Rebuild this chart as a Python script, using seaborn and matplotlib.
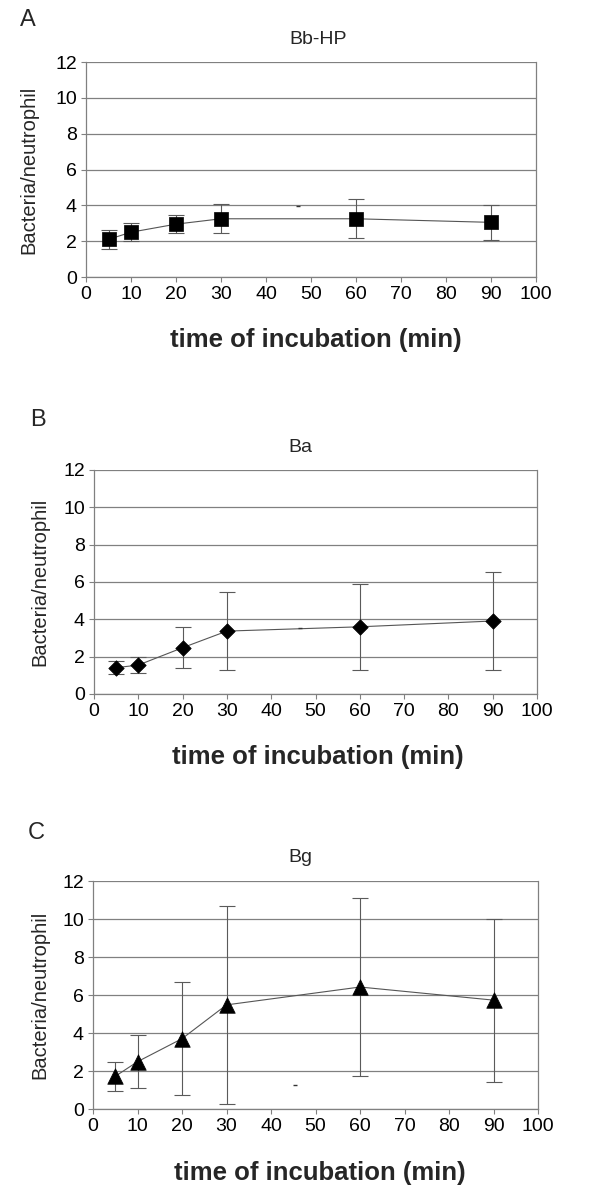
import matplotlib
matplotlib.use("Agg")
import matplotlib.pyplot as plt
import seaborn as sns

# tiempos de incubación (min)
tiempos = [5, 10, 20, 30, 60, 90]

# A: Bb-HP (media y desviación)
bbhp_media = [2.1, 2.5, 2.95, 3.25, 3.25, 3.05]
bbhp_sd = [0.52, 0.5, 0.52, 0.8, 1.08, 0.98]

# B: Ba
ba_media = [1.41, 1.55, 2.48, 3.37, 3.6, 3.91]
ba_sd = [0.34, 0.44, 1.1, 2.1, 2.3, 2.6]

# C: Bg
bg_media = [1.72, 2.49, 3.7, 5.48, 6.42, 5.73]
bg_sd = [0.76, 1.4, 2.96, 5.23, 4.67, 4.29]

# marcas sueltas que aparecen en cada panel
marca_x = [47, 46.5, 45.4]
marca_y = [3.95, 3.55, 1.27]

letras = ["A", "B", "C"]
titulos = ["Bb-HP", "Ba", "Bg"]
x_ticks = list(range(0, 101, 10))
y_ticks = list(range(0, 13, 2))

sns.set_theme(style="white")
plt.rcParams["font.family"] = ["Liberation Sans", "DejaVu Sans"]

W, H = 600, 1197
fig = plt.figure(figsize=(W / 100, H / 100), dpi=100)

# cajas de los ejes en pixeles: izquierda, derecha, arriba, abajo
cajas = [(86, 536, 62, 277), (94, 537, 470, 694), (93, 538, 881, 1109)]
letra_pos = [(28, 20), (38, 420), (36, 833)]
titulo_pos = [(318, 39), (300, 448), (300, 858)]
ylabel_x = [29, 40, 40]
xlabel_pos = [(316, 340), (318, 757), (320, 1173)]
marcadores = [("s", 115), ("D", 62), ("^", 125)]

medias = [bbhp_media, ba_media, bg_media]
sds = [bbhp_sd, ba_sd, bg_sd]

gris = "#808080"

for i in range(3):
    l, r, t, b = cajas[i]
    ax = fig.add_axes([l / W, 1 - b / H, (r - l) / W, (b - t) / H])

    sns.lineplot(x=tiempos, y=medias[i], color="#555555", linewidth=0.8, ax=ax, zorder=2)
    ax.errorbar(tiempos, medias[i], yerr=sds[i], fmt="none", ecolor="#5a5a5a",
                elinewidth=0.8, capsize=5.5, capthick=0.8, zorder=3)
    m, s = marcadores[i]
    sns.scatterplot(x=tiempos, y=medias[i], marker=m, s=s, color="black",
                    edgecolor="black", linewidth=0.5, ax=ax, zorder=4)
    ax.plot([marca_x[i]], [marca_y[i]], marker="_", markersize=3, color="#333333",
            linestyle="none", zorder=2)

    ax.set_xlim(0, 100)
    ax.set_ylim(0, 12)
    ax.set_xticks(x_ticks)
    ax.set_yticks(y_ticks)
    ax.tick_params(axis="both", direction="out", length=3.6, width=0.8, color=gris,
                   labelsize=14, pad=3, labelcolor="black", left=True, bottom=True)
    ax.yaxis.grid(True, color=gris, linewidth=0.9)
    ax.xaxis.grid(False)
    ax.set_axisbelow(True)
    for lado in ["left", "bottom", "right"]:
        ax.spines[lado].set_color(gris)
        ax.spines[lado].set_linewidth(0.9)
    ax.spines["top"].set_visible(False)
    ax.set_xlabel("")
    ax.set_ylabel("")

    fig.text(letra_pos[i][0] / W, 1 - letra_pos[i][1] / H, letras[i],
             fontsize=17, ha="center", va="center")
    fig.text(titulo_pos[i][0] / W, 1 - titulo_pos[i][1] / H, titulos[i],
             fontsize=14, ha="center", va="center")
    fig.text(ylabel_x[i] / W, 1 - (t + b) / 2 / H, "Bacteria/neutrophil",
             fontsize=14.5, rotation=90, ha="center", va="center")
    fig.text(xlabel_pos[i][0] / W, 1 - xlabel_pos[i][1] / H, "time of incubation (min)",
             fontsize=18.5, fontweight="bold", ha="center", va="center")

fig.savefig("out.png", dpi=100, facecolor="white")
